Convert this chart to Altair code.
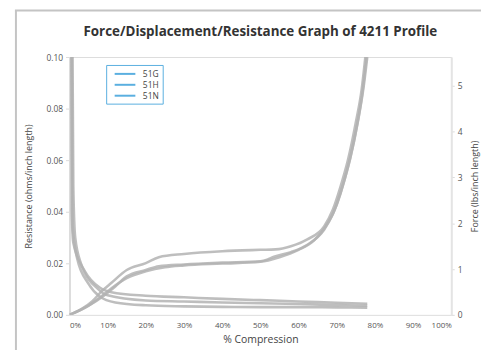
import altair as alt
import pandas as pd

series = ["51G", "51H", "51N"]

# Force curves (% compression -> lbs/inch length)
force_x = {
    "51G": [0, 3, 6, 8.5, 11, 15, 20, 23.4, 30, 40, 50, 54, 58, 62.3, 66.7, 69, 71, 73, 75, 76.5, 77.5],
    "51H": [0, 5, 9, 12, 15, 20, 23.4, 30, 40, 50, 54, 58, 62.3, 66.7, 69, 71, 73, 75, 76.8, 77.8],
    "51N": [0, 4, 8, 11, 15, 20, 25, 30, 40, 50, 55, 60, 64, 67, 69.5, 71.5, 73.5, 75.5, 77, 78],
}
force_y = {
    "51G": [0, 0.12, 0.3, 0.52, 0.7, 0.98, 1.13, 1.26, 1.33, 1.39, 1.42, 1.43, 1.5, 1.65, 1.93, 2.3, 2.8, 3.4, 4.2, 4.9, 5.63],
    "51H": [0, 0.2, 0.42, 0.62, 0.84, 0.98, 1.06, 1.1, 1.14, 1.17, 1.28, 1.37, 1.53, 1.86, 2.2, 2.65, 3.25, 4.0, 4.9, 5.63],
    "51N": [0, 0.15, 0.38, 0.58, 0.8, 0.95, 1.04, 1.08, 1.12, 1.16, 1.26, 1.42, 1.62, 1.92, 2.3, 2.8, 3.4, 4.2, 4.95, 5.63],
}

# Resistance curves (% compression -> ohms/inch length)
res_x = {
    "51G": [0.5, 0.6, 1.0, 4, 8, 11, 20, 30, 40, 50, 60, 70, 78],
    "51H": [0.8, 1.0, 1.5, 3, 7.5, 10, 20, 30, 40, 50, 60, 70, 78],
    "51N": [0.6, 0.8, 2, 5, 8, 12, 20, 30, 40, 50, 60, 70, 78],
}
res_y = {
    "51G": [0.10, 0.04, 0.028, 0.017, 0.0105, 0.0088, 0.0074, 0.0068, 0.0062, 0.0057, 0.0052, 0.0047, 0.0043],
    "51H": [0.10, 0.05, 0.03, 0.02, 0.010, 0.0076, 0.0056, 0.0052, 0.0048, 0.0045, 0.0042, 0.0038, 0.0035],
    "51N": [0.10, 0.035, 0.022, 0.012, 0.007, 0.0048, 0.0037, 0.0033, 0.0031, 0.0030, 0.0030, 0.0029, 0.0028],
}

x_ticks = [0, 10, 20, 30, 40, 50, 60, 70, 80, 90, 100]
res_ticks = [0.0, 0.02, 0.04, 0.06, 0.08, 0.10]
force_ticks = [0, 1, 2, 3, 4, 5]

force_df = pd.DataFrame(
    [{"series": s, "x": x, "force": y, "order": i}
     for s in series for i, (x, y) in enumerate(zip(force_x[s], force_y[s]))]
)
res_df = pd.DataFrame(
    [{"series": s, "x": x, "res": y, "order": i}
     for s in series for i, (x, y) in enumerate(zip(res_x[s], res_y[s]))]
)

FONT = "Open Sans"
CURVE = "#b3b3b3"

x_enc = alt.X(
    "x:Q",
    scale=alt.Scale(domain=[0, 100], nice=False),
    axis=alt.Axis(
        title="% Compression", values=x_ticks, labelExpr="datum.value + '%'",
        labelFontSize=8, labelColor="#555", titleFontSize=10.5, titleColor="#444",
        titleFontWeight="normal", labelFont=FONT, titleFont=FONT, labelOverlap=False,
        domain=False, ticks=False, labelPadding=7, titlePadding=5, grid=False,
    ),
)

res_y_enc = alt.Y(
    "res:Q",
    scale=alt.Scale(domain=[0, 0.10], nice=False),
    axis=alt.Axis(
        title="Resistance (ohms/inch length)", orient="left", values=res_ticks,
        format=".2f", labelFontSize=8.5, labelColor="#555", titleFontSize=9,
        titleColor="#444", titleFontWeight="normal", labelFont=FONT, titleFont=FONT,
        domainColor="#dcdcdc", domainWidth=2, tickColor="#dcdcdc", tickSize=4,
        labelPadding=3, titlePadding=12, grid=False,
    ),
)

base_line = dict(strokeWidth=2.6, opacity=0.85, interpolate="monotone", clip=True)

res_layer = alt.Chart(res_df).mark_line(color=CURVE, **base_line).encode(
    x=x_enc, y=res_y_enc, order="order:Q", detail="series:N",
)

# legend-only layer (no visible marks): blue legend lines as in the reference
legend_layer = alt.Chart(res_df).transform_filter("false").mark_line(strokeWidth=2).encode(
    x=x_enc,
    y=res_y_enc,
    color=alt.Color(
        "series:N",
        scale=alt.Scale(domain=series, range=["#5aafe0", "#5aafe0", "#5aafe0"]),
        legend=alt.Legend(
            title=None, orient="none", legendX=37, legendY=8,
            symbolType="M-2.2,0H2.2", symbolStrokeWidth=2,
            symbolSize=90, labelFontSize=8.5, labelColor="#444", labelFont=FONT,
            strokeColor="#5aafe0", padding=3, rowPadding=0, labelOffset=12,
            fillColor="white", symbolOffset=10,
        ),
    ),
)

frame_left = alt.Chart(pd.DataFrame({"a": [0]})).mark_rule(
    color="#c4c4c4", strokeWidth=2
).encode(x=alt.value(-54), y=alt.value(-47), y2=alt.value(310))
frame_top = alt.Chart(pd.DataFrame({"a": [0]})).mark_rule(
    color="#c4c4c4", strokeWidth=2
).encode(x=alt.value(-55), x2=alt.value(430), y=alt.value(-47))

left_group = alt.layer(res_layer, legend_layer, frame_left, frame_top)

force_layer = alt.Chart(force_df).mark_line(color=CURVE, **base_line).encode(
    x=x_enc,
    y=alt.Y(
        "force:Q",
        scale=alt.Scale(domain=[0, 5.63], nice=False),
        axis=alt.Axis(
            title="Force (lbs/inch length)", orient="right", values=force_ticks,
            labelFontSize=8.5, labelColor="#555", titleFontSize=9, titleColor="#444",
            titleFontWeight="normal", labelFont=FONT, titleFont=FONT, titleAngle=270,
            domainColor="#e4e4e4", domainWidth=2, tickColor="#dcdcdc", tickSize=3,
            labelPadding=3, titlePadding=18, grid=False,
        ),
    ),
    order="order:Q",
    detail="series:N",
)

chart = (
    alt.layer(left_group, force_layer)
    .resolve_scale(y="independent")
    .properties(
        width=385, height=260,
        autosize=alt.AutoSizeParams(type="none"),
        padding={"left": 62, "top": 48, "right": 30, "bottom": 34},
        title=alt.TitleParams(
            "Force/Displacement/Resistance Graph of 4211 Profile",
            fontSize=13.5, font=FONT, fontWeight="bold", color="#333",
            anchor="middle", offset=0, frame="group", baseline="alphabetic", dy=40,
        ),
    )
    .configure_view(stroke="#e4e4e4", strokeWidth=2)
    .configure(background="white")
)

chart.save("out.html", embed_options={"renderer": "svg", "actions": False})
